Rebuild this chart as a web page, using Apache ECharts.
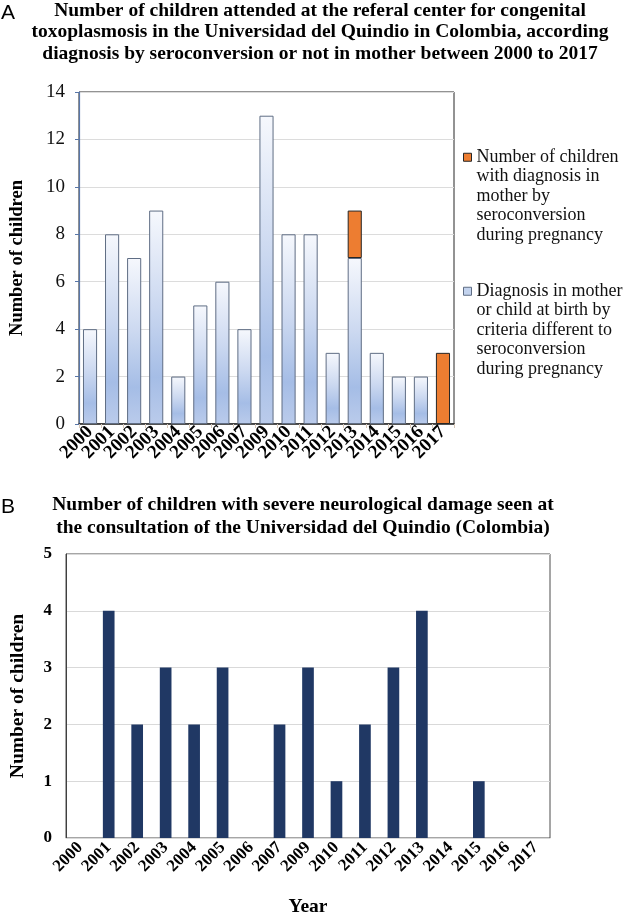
<!DOCTYPE html>
<html>
<head>
<meta charset="utf-8">
<script src="https://cdn.jsdelivr.net/npm/echarts@6/dist/echarts.min.js"></script>
<style>
html,body{margin:0;padding:0;background:#fff;}
#chart{width:626px;height:918px;}
</style>
</head>
<body>
<div id="chart"></div>
<script>
// ---------- DATA ----------
var years = ['2000','2001','2002','2003','2004','2005','2006','2007','2009','2010','2011','2012','2013','2014','2015','2016','2017'];
var otherDiagnosis = [4, 8, 7, 9, 2, 5, 6, 4, 13, 8, 8, 3, 7, 3, 2, 2, null];
var seroconversion = [null, null, null, null, null, null, null, null, null, null, null, null, 2, null, null, null, 3];
var severeDamage = [0, 4, 2, 3, 2, 3, 0, 2, 3, 1, 2, 3, 4, 0, 1, 0, 0];

var seroName = 'Number of children with diagnosis in mother by seroconversion during pregnancy';
var otherName = 'Diagnosis in mother or child at birth by criteria different to seroconversion during pregnancy';
var legendLines = {};
legendLines[seroName] = 'Number of children\nwith diagnosis in\nmother by\nseroconversion\nduring pregnancy';
legendLines[otherName] = 'Diagnosis in mother\nor child at birth by\ncriteria different to\nseroconversion\nduring pregnancy';

var titleA = 'Number of children attended at the referal center for congenital\ntoxoplasmosis in the Universidad del Quindio in Colombia, according\ndiagnosis by seroconversion or not in mother between 2000 to 2017';
var titleB = 'Number of children with severe neurological damage seen at\nthe consultation of the Universidad del Quindio (Colombia)';
var yName = 'Number of children';
var xNameB = 'Year';

// ---------- CHART ----------
var serif = 'Liberation Serif';
var chart = echarts.init(document.getElementById('chart'), null, {renderer: 'canvas'});

var LH = 19.5;
var blockH = LH * 5;
var iconPath = 'path://M0,' + (LH/2 - 4) + 'L8,' + (LH/2 - 4) + 'L8,' + (LH/2 + 4) + 'L0,' + (LH/2 + 4) + 'Z M0,0 M0,' + blockH;

var blueGrad = new echarts.graphic.LinearGradient(0, 0, 0, 1, [
  {offset: 0, color: '#f6f8fd'},
  {offset: 0.45, color: '#cbd8f0'},
  {offset: 0.78, color: '#a5bde6'},
  {offset: 1, color: '#bacbeb'}
]);

var option = {
  backgroundColor: '#fff',
  animation: false,
  title: [
    {text: 'A', left: 1, top: 3, padding: 0,
     textStyle: {fontFamily: 'Liberation Sans', fontSize: 21, fontWeight: 'normal', color: '#000'}},
    {text: titleA, left: 320, top: 0, padding: 0, textAlign: 'center',
     textStyle: {fontFamily: serif, fontSize: 19.5, fontWeight: 'bold', color: '#000', lineHeight: 21.5}},
    {text: 'B', left: 1, top: 497, padding: 0,
     textStyle: {fontFamily: 'Liberation Sans', fontSize: 21, fontWeight: 'normal', color: '#000'}},
    {text: titleB, left: 303, top: 493, padding: 0, textAlign: 'center',
     textStyle: {fontFamily: serif, fontSize: 19.5, fontWeight: 'bold', color: '#000', lineHeight: 23}}
  ],
  legend: {
    orient: 'vertical',
    left: 463,
    top: 147,
    padding: 0,
    itemGap: 35.5,
    itemWidth: 8,
    itemHeight: blockH,
    icon: iconPath,
    selectedMode: false,
    formatter: function (n) { return legendLines[n]; },
    textStyle: {fontFamily: serif, fontSize: 18, color: '#111', lineHeight: LH},
    data: [
      {name: seroName, itemStyle: {color: '#ed7d31', borderColor: '#262626', borderWidth: 1}},
      {name: otherName, itemStyle: {color: '#c3d3ee', borderColor: '#5f6d84', borderWidth: 1}}
    ]
  },
  grid: [
    {left: 73, right: 172, top: 92, bottom: 494, show: true, borderColor: '#262626', borderWidth: 1, backgroundColor: 'transparent'},
    {left: 57, right: 76, top: 554, bottom: 76, show: true, borderColor: '#4d4d4d', borderWidth: 1, backgroundColor: 'transparent'}
  ],
  xAxis: [
    {type: 'category', gridIndex: 0, data: years,
     axisLine: {lineStyle: {color: '#262626', width: 1.5}},
     axisTick: {show: true, length: 4, lineStyle: {color: '#d8c8b8'}},
     axisLabel: {interval: 0, rotate: 45, margin: 5, fontFamily: serif, fontWeight: 'bold', fontSize: 19, color: '#000'}},
    {type: 'category', gridIndex: 1, data: years,
     name: xNameB, nameLocation: 'middle', nameGap: 59,
     nameTextStyle: {fontFamily: serif, fontWeight: 'bold', fontSize: 19.5, color: '#000'},
     axisLine: {lineStyle: {color: '#d9d9d9', width: 1}},
     axisTick: {show: false},
     axisLabel: {interval: 0, rotate: 45, margin: 7, fontFamily: serif, fontWeight: 'bold', fontSize: 17, color: '#000'}}
  ],
  yAxis: [
    {type: 'value', gridIndex: 0, min: 0, max: 14, interval: 2,
     name: yName, nameLocation: 'middle', nameGap: 52,
     nameTextStyle: {fontFamily: serif, fontWeight: 'bold', fontSize: 18.5, color: '#000'},
     axisLine: {show: true, lineStyle: {color: '#5876a8', width: 1.2}},
     axisTick: {show: true, length: 4, lineStyle: {color: '#5876a8'}},
     splitLine: {lineStyle: {color: '#dcdcdc'}},
     axisLabel: {margin: 14, fontFamily: serif, fontSize: 19, color: '#111'}},
    {type: 'value', gridIndex: 1, min: 0, max: 5, interval: 1,
     name: yName, nameLocation: 'middle', nameGap: 38,
     nameTextStyle: {fontFamily: serif, fontWeight: 'bold', fontSize: 19.5, color: '#000'},
     axisLine: {show: true, lineStyle: {color: '#404040', width: 1}},
     axisTick: {show: false},
     splitLine: {lineStyle: {color: '#d9d9d9'}},
     axisLabel: {margin: 14, fontFamily: serif, fontWeight: 'bold', fontSize: 17, color: '#000'}}
  ],
  series: [
    {name: otherName, type: 'bar', xAxisIndex: 0, yAxisIndex: 0, stack: 'a', barWidth: '64%',
     data: otherDiagnosis,
     itemStyle: {color: blueGrad, borderColor: '#5f6d84', borderWidth: 1}},
    {name: seroName, type: 'bar', xAxisIndex: 0, yAxisIndex: 0, stack: 'a', barWidth: '64%',
     data: seroconversion,
     itemStyle: {color: '#ed7d31', borderColor: '#262626', borderWidth: 1}},
    {name: 'Severe neurological damage', type: 'bar', xAxisIndex: 1, yAxisIndex: 1, barWidth: '41%',
     data: severeDamage,
     itemStyle: {color: '#203864'}}
  ]
};
chart.setOption(option);
</script>
</body>
</html>
